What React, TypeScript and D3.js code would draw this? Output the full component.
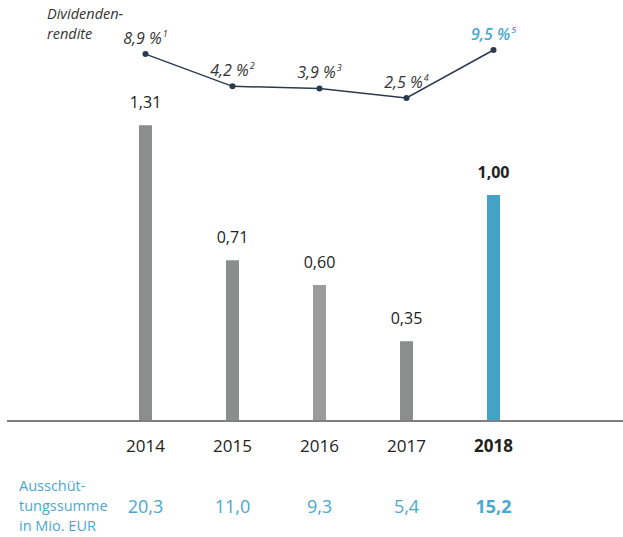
import * as d3 from 'd3';

const years = ['2014', '2015', '2016', '2017', '2018'];
const dividend = [1.31, 0.71, 0.6, 0.35, 1.0];
const dividendLabels = ['1,31', '0,71', '0,60', '0,35', '1,00'];
const yieldValues = [8.9, 4.2, 3.9, 2.5, 9.5];
const yieldLabels = ['8,9 %', '4,2 %', '3,9 %', '2,5 %', '9,5 %'];
const yieldNotes = ['1', '2', '3', '4', '5'];
const payoutLabels = ['20,3', '11,0', '9,3', '5,4', '15,2'];

const width = 623;
const height = 537;
const font = "'Open Sans', sans-serif";
const grey = '#8b8e8d';
const blue = '#44a2c5';
const textBlue = '#4aa8d0';
const navy = '#2b3950';

export default function App() {
  const x = d3.scaleBand().domain(years).range([102, 537]);
  const cx = (d: string) => x(d)! + x.bandwidth() / 2;
  const y = d3.scaleLinear().domain([0, 1]).range([420, 195]);
  const yy = d3.scaleLinear().domain([2.5, 9.5]).range([98, 50]);
  const line = d3
    .line<number>()
    .x((_, i) => cx(years[i]))
    .y((v) => yy(v));
  const last = years.length - 1;
  const barW = 13;

  return (
    <div style={{ position: 'absolute', left: 0, top: 0 }}>
      <svg width={width} height={height} style={{ display: 'block' }} fontFamily={font}>
        {/* Dividendenrendite line */}
        <text x={47} y={19} fontSize={14.5} fontStyle="italic" fill="#333">Dividenden-</text>
        <text x={47} y={39} fontSize={14.5} fontStyle="italic" fill="#333">rendite</text>
        <path d={line(yieldValues)!} fill="none" stroke={navy} strokeWidth={1.5} />
        {yieldValues.map((v, i) => (
          <g key={'y' + i}>
            <circle cx={cx(years[i])} cy={yy(v)} r={3} fill={navy} />
            <text
              x={cx(years[i])}
              y={yy(v) - 10}
              textAnchor="middle"
              fontSize={16}
              fontStyle="italic"
              fill={i === last ? textBlue : '#333'}
              fontWeight={i === last ? 600 : 400}
            >
              {yieldLabels[i]}
              <tspan fontSize={9} dy={-7} dx={1}>{yieldNotes[i]}</tspan>
            </text>
          </g>
        ))}

        {/* bars */}
        {dividend.map((v, i) => (
          <g key={'b' + i}>
            <rect
              x={cx(years[i]) - barW / 2}
              y={y(v)}
              width={barW}
              height={y(0) - y(v)}
              fill={i === last ? blue : i === 2 ? '#9c9c9c' : grey}
            />
            <text
              x={cx(years[i])}
              y={y(v) - 17}
              textAnchor="middle"
              fontSize={16}
              fontWeight={i === last ? 700 : 400}
              fill="#222"
            >
              {dividendLabels[i]}
            </text>
          </g>
        ))}
        <line x1={7} x2={623} y1={421} y2={421} stroke="#555" strokeWidth={1.5} />

        {/* years */}
        {years.map((yr, i) => (
          <text
            key={yr}
            x={cx(yr)}
            y={452}
            textAnchor="middle"
            fontSize={17}
            fontWeight={i === last ? 700 : 400}
            fill="#222"
          >
            {yr}
          </text>
        ))}

        {/* payout */}
        <text x={19} y={491} fontSize={14.5} fill={textBlue}>Ausschüt-</text>
        <text x={19} y={511} fontSize={14.5} fill={textBlue}>tungssumme</text>
        <text x={19} y={531} fontSize={14.5} fill={textBlue}>in Mio. EUR</text>
        {payoutLabels.map((p, i) => (
          <text
            key={'p' + i}
            x={cx(years[i])}
            y={513}
            textAnchor="middle"
            fontSize={18}
            fontWeight={i === last ? 700 : 400}
            fill={textBlue}
          >
            {p}
          </text>
        ))}
      </svg>
    </div>
  );
}
